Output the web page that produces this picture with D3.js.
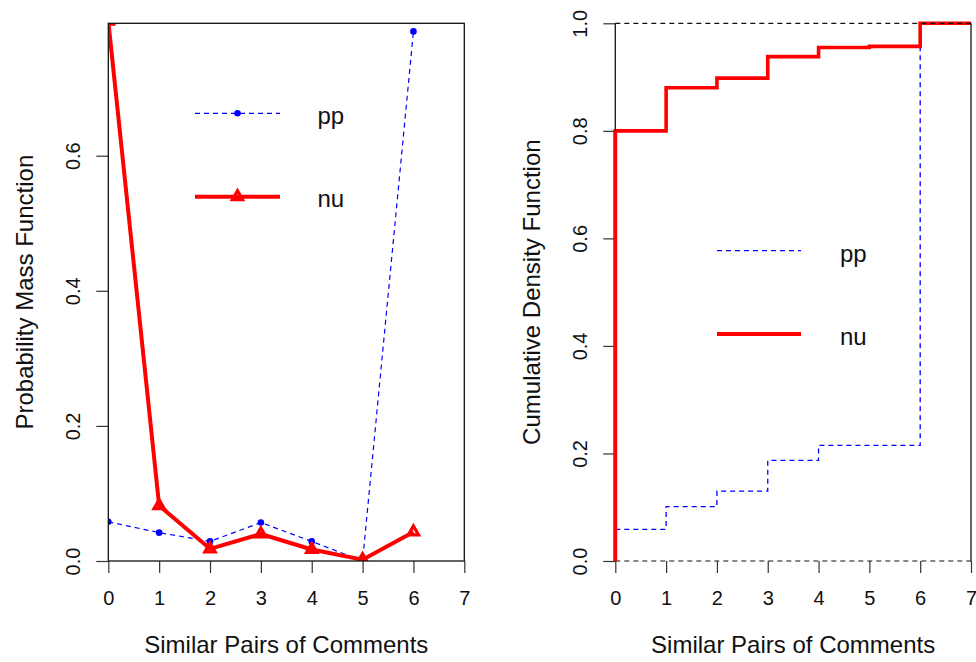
<!DOCTYPE html>
<html>
<head>
<meta charset="utf-8">
<script src="https://cdn.jsdelivr.net/npm/d3@7"></script>
<style>
  html, body { margin: 0; padding: 0; background: #fff; }
  svg { display: block; font-family: "Liberation Sans", Arial, sans-serif; }
</style>
</head>
<body>
<svg id="chart" width="976" height="662"></svg>
<script>
// ---- data ----
const categories = [0, 1, 2, 3, 4, 5, 6];
const xTicks = [0, 1, 2, 3, 4, 5, 6, 7];
const ppPmf = [0.058, 0.042, 0.029, 0.057, 0.029, 0.000, 0.784];
const nuPmf = [0.799, 0.082, 0.018, 0.040, 0.017, 0.002, 0.043];
const ppCdf = [0.059, 0.101, 0.130, 0.187, 0.215, 0.215, 1.000];
const nuCdf = [0.800, 0.880, 0.898, 0.938, 0.955, 0.957, 1.000];
const pmfTicks = [0, 0.2, 0.4, 0.6];
const cdfTicks = [0, 0.2, 0.4, 0.6, 0.8, 1.0];
const seriesNames = ["pp", "nu"];
const xTitle = "Similar Pairs of Comments";
const pmfTitle = "Probability Mass Function";
const cdfTitle = "Cumulative Density Function";

const RED = "#ff0000", BLUE = "#0000ff";
const svg = d3.select("#chart");

// ---- scales ----
const left = {x0: 108.3, x1: 464.3, y0: 23.3, y1: 561};
const right = {x0: 615.3, x1: 971, y0: 23.3, y1: 561};
const xL = d3.scaleLinear().domain([0, 7]).range([left.x0, left.x1]);
const yL = d3.scaleLinear().domain([0, 0.796]).range([left.y1, left.y0]);
const xR = d3.scaleLinear().domain([0, 7]).range([right.x0, right.x1]);
const yR = d3.scaleLinear().domain([0, 1]).range([right.y1, right.y0]);

const fmt = d => d3.format(".1f")(d);

function axes(xs, ys, yTicks, p, yTitle) {
  const gx = svg.append("g").attr("transform", `translate(0,${p.y1})`)
    .call(d3.axisBottom(xs).tickValues(xTicks).tickSize(12).tickFormat(d3.format("d")));
  gx.select(".domain").remove();
  gx.selectAll(".tick line").attr("stroke", "#333").attr("stroke-width", 1.2);
  gx.selectAll(".tick text").attr("font-size", 20).attr("fill", "#111")
    .attr("y", 0).attr("dy", null).attr("transform", "translate(0,44)");

  const gy = svg.append("g").attr("transform", `translate(${p.x0},0)`)
    .call(d3.axisLeft(ys).tickValues(yTicks).tickSize(12).tickFormat(fmt));
  gy.select(".domain").remove();
  gy.selectAll(".tick line").attr("stroke", "#333").attr("stroke-width", 1.2);
  gy.selectAll(".tick text").attr("font-size", 20).attr("fill", "#111")
    .attr("x", null).attr("dy", null).attr("text-anchor", "middle")
    .attr("transform", "translate(-28,0) rotate(-90)");

  svg.append("text").attr("x", (p.x0 + p.x1) / 2).attr("y", 653)
    .attr("text-anchor", "middle").attr("font-size", 24).attr("fill", "#111").text(xTitle);
  svg.append("text")
    .attr("transform", `translate(${p.x0 - 75},${(p.y0 + p.y1) / 2}) rotate(-90)`)
    .attr("text-anchor", "middle").attr("font-size", 24).attr("fill", "#111").text(yTitle);
}

// ================= LEFT PANEL (PMF) =================
axes(xL, yL, pmfTicks, left, pmfTitle);

svg.append("clipPath").attr("id", "clipL").append("rect")
  .attr("x", left.x0).attr("y", left.y0)
  .attr("width", left.x1 - left.x0).attr("height", left.y1 - left.y0);

const gL = svg.append("g").attr("clip-path", "url(#clipL)");
const lineL = d3.line().x((d, i) => xL(categories[i])).y(d => yL(d));

gL.append("path").datum(ppPmf).attr("d", lineL).attr("fill", "none")
  .attr("stroke", BLUE).attr("stroke-width", 1.2).attr("stroke-dasharray", "5,4");
gL.selectAll("circle.pp").data(ppPmf).join("circle").attr("class", "pp")
  .attr("cx", (d, i) => xL(categories[i])).attr("cy", d => yL(d))
  .attr("r", 3.3).attr("fill", BLUE);

gL.append("path").datum(nuPmf).attr("d", lineL).attr("fill", "none")
  .attr("stroke", RED).attr("stroke-width", 4).attr("stroke-linejoin", "round");

function triPath(cx, cy) {
  const u = 3.8;
  return `M${cx},${cy - 1.555 * u}L${cx + 1.347 * u},${cy + 0.778 * u}L${cx - 1.347 * u},${cy + 0.778 * u}Z`;
}
gL.selectAll("path.nu").data(nuPmf).join("path").attr("class", "nu")
  .attr("d", (d, i) => triPath(xL(categories[i]), yL(d)))
  .attr("fill", "none").attr("stroke", RED).attr("stroke-width", 3.2);

// frame
svg.append("rect").attr("x", left.x0).attr("y", left.y0)
  .attr("width", left.x1 - left.x0).attr("height", left.y1 - left.y0)
  .attr("fill", "none").attr("stroke", "#111").attr("stroke-width", 1.3);

// legend left
const legL = [{y: 113.3, name: seriesNames[0]}, {y: 196.7, name: seriesNames[1]}];
svg.append("line").attr("x1", 195).attr("x2", 280).attr("y1", legL[0].y).attr("y2", legL[0].y)
  .attr("stroke", BLUE).attr("stroke-width", 1.2).attr("stroke-dasharray", "5,4");
svg.append("circle").attr("cx", 237.5).attr("cy", legL[0].y).attr("r", 3.3).attr("fill", BLUE);
svg.append("line").attr("x1", 195).attr("x2", 280).attr("y1", legL[1].y).attr("y2", legL[1].y)
  .attr("stroke", RED).attr("stroke-width", 4);
svg.append("path").attr("d", triPath(237.5, legL[1].y)).attr("fill", "none")
  .attr("stroke", RED).attr("stroke-width", 3.2);
legL.forEach(l => svg.append("text").attr("x", 317.5).attr("y", l.y + 10.5)
  .attr("font-size", 24).attr("fill", "#111").text(l.name));

// ================= RIGHT PANEL (CDF) =================
axes(xR, yR, cdfTicks, right, cdfTitle);

function stepPoints(vals) {
  const pts = [[0, 0]];
  vals.forEach((v, i) => {
    pts.push([categories[i], v]);
    const nx = i < vals.length - 1 ? categories[i + 1] : 7;
    pts.push([nx, v]);
  });
  return pts;
}
const lineR = d3.line().x(d => xR(d[0])).y(d => yR(d[1]));

svg.append("path").datum(stepPoints(ppCdf).slice(1)).attr("d", lineR).attr("fill", "none")
  .attr("stroke", BLUE).attr("stroke-width", 1.3).attr("stroke-dasharray", "5,4");
svg.append("path").datum(stepPoints(nuCdf)).attr("d", lineR).attr("fill", "none")
  .attr("stroke", RED).attr("stroke-width", 3.6).attr("stroke-linejoin", "miter");

// dashed horizontal lines at 0 and 1, solid side borders
[0, 1].forEach(v => svg.append("line").attr("x1", right.x0).attr("x2", right.x1)
  .attr("y1", yR(v)).attr("y2", yR(v)).attr("stroke", "#111").attr("stroke-width", 1.2)
  .attr("stroke-dasharray", "5,4"));
[right.x0, right.x1].forEach(x => svg.append("line").attr("x1", x).attr("x2", x)
  .attr("y1", right.y0).attr("y2", right.y1).attr("stroke", "#111").attr("stroke-width", 1.3));
// redraw the red vertical at 0 over the axis border
svg.append("line").attr("x1", xR(0)).attr("x2", xR(0)).attr("y1", yR(0)).attr("y2", yR(nuCdf[0]))
  .attr("stroke", RED).attr("stroke-width", 3.6);

// legend right
const legR = [{y: 250.7, name: seriesNames[0]}, {y: 334, name: seriesNames[1]}];
svg.append("line").attr("x1", 717).attr("x2", 801).attr("y1", legR[0].y).attr("y2", legR[0].y)
  .attr("stroke", BLUE).attr("stroke-width", 1.2).attr("stroke-dasharray", "5,4");
svg.append("line").attr("x1", 717).attr("x2", 801).attr("y1", legR[1].y).attr("y2", legR[1].y)
  .attr("stroke", RED).attr("stroke-width", 4);
legR.forEach(l => svg.append("text").attr("x", 840).attr("y", l.y + 11)
  .attr("font-size", 24).attr("fill", "#111").text(l.name));
</script>
</body>
</html>
